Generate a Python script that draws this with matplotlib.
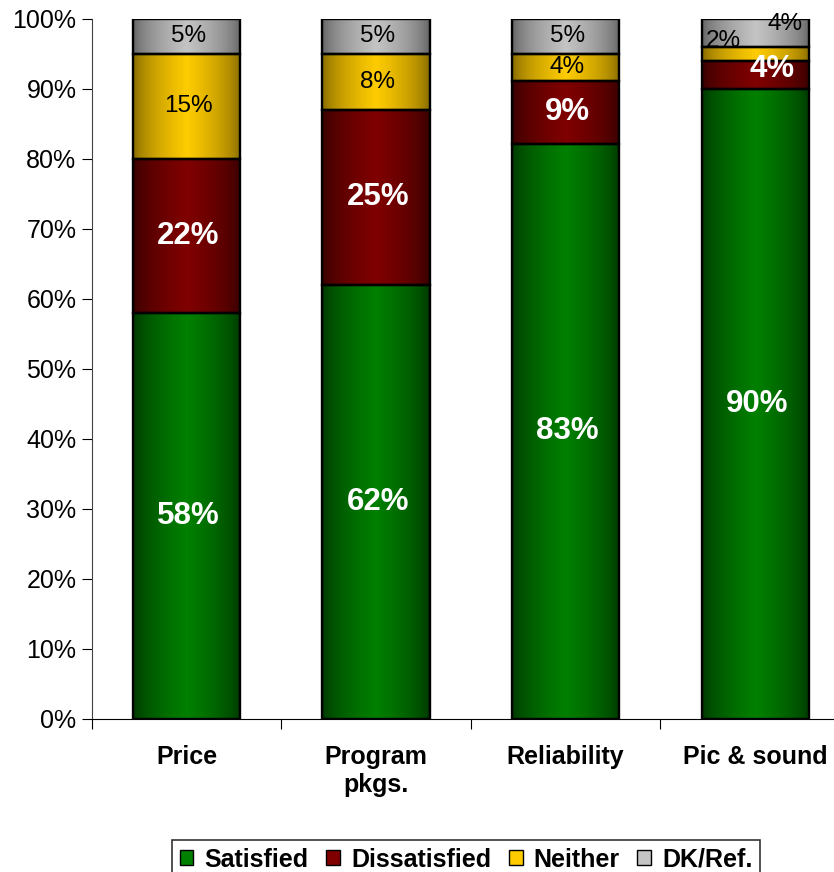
import numpy as np
import matplotlib.pyplot as plt
from matplotlib.colors import to_rgb
from matplotlib.patches import Patch

plt.rcParams["font.family"] = ["Liberation Sans", "DejaVu Sans"]

categories = ["Price", "Program\npkgs.", "Reliability", "Pic & sound"]
series = ["Satisfied", "Dissatisfied", "Neither", "DK/Ref."]
satisfied = [58, 62, 83, 90]
dissatisfied = [22, 25, 9, 4]
neither = [15, 8, 4, 2]
dk_ref = [5, 5, 5, 4]

# edge (dark) and centre (bright) colour of each series
dark_cols = ["#003000", "#300000", "#7a6000", "#5a5a5a"]
light_cols = ["#008000", "#800000", "#ffcc00", "#c4c4c4"]
label_cols = ["white", "white", "black", "black"]
label_bold = [True, True, False, False]


def gradient_img(dark, light, n=200):
    t = np.linspace(0, 1, n)
    mix = (1 - np.abs(2 * t - 1)) ** 0.55
    d = np.array(to_rgb(dark))
    l = np.array(to_rgb(light))
    row = d[None, :] + (l - d)[None, :] * mix[:, None]
    return row[None, :, :]


def main():
    values = np.array([satisfied, dissatisfied, neither, dk_ref], dtype=float)
    totals = values.sum(axis=0)
    shares = values / totals * 100

    fig = plt.figure(figsize=(8.34, 8.72), dpi=100)
    ax = fig.add_axes([0.110, 0.1755, 0.909, 0.8028])
    x = np.arange(len(categories))
    width = 0.565

    bottom = np.zeros(len(categories))
    for i, name in enumerate(series):
        bars = ax.bar(x, shares[i], width, bottom=bottom, facecolor="none",
                      edgecolor="black", linewidth=1.7, label=name, zorder=3)
        img = gradient_img(dark_cols[i], light_cols[i])
        for p in bars.patches:
            ax.imshow(img, extent=[p.get_x(), p.get_x() + p.get_width(),
                                   p.get_y(), p.get_y() + p.get_height()],
                      aspect="auto", zorder=2, interpolation="bilinear")
        for j, p in enumerate(bars.patches):
            cx = p.get_x() + p.get_width() / 2 + 0.01
            cy = p.get_y() + p.get_height() / 2
            dx, dy = 0, 0
            # the last column's small labels were dragged aside in the original
            if j == 3 and i == 1:
                dx, dy = 0.08, 0.9
            elif j == 3 and i == 2:
                dx, dy = -0.18, 1.8
            elif j == 3 and i == 3:
                dx, dy = 0.15, 1.3
            ax.text(cx + dx, cy + dy, f"{int(values[i, j])}%", ha="center", va="center",
                    color=label_cols[i], fontsize=22.5 if label_bold[i] else 17.5,
                    fontweight="bold" if label_bold[i] else "normal", zorder=5)
        bottom += shares[i]

    ax.set_xlim(-0.5, 3.5)
    ax.set_ylim(0, 100)
    ax.set_yticks(np.arange(0, 101, 10))
    ax.set_yticklabels([f"{v}%" for v in range(0, 101, 10)], fontsize=18)
    ax.set_xticks(np.arange(-0.5, 4, 1))
    ax.set_xticklabels([])
    ax.set_xticks(x, minor=True)
    ax.set_xticklabels(categories, minor=True, fontsize=18, fontweight="bold")
    ax.tick_params(axis="x", which="minor", length=0, pad=19)
    ax.tick_params(axis="x", which="major", length=7, direction="out")
    ax.tick_params(axis="y", length=7, direction="out", pad=4)
    for s in ["top", "right"]:
        ax.spines[s].set_visible(False)
    ax.spines["left"].set_color("#404040")

    handles = [Patch(facecolor=light_cols[i], edgecolor="black", linewidth=1.0)
               for i in range(len(series))]
    leg = fig.legend(handles, series, loc="upper left",
                     bbox_to_anchor=(172 / 834, 1 - 840 / 872),
                     ncol=4, frameon=True, fancybox=False,
                     prop={"weight": "bold", "size": 18}, handlelength=0.55,
                     handleheight=0.55, handletextpad=0.45, columnspacing=0.7,
                     borderpad=0.3, borderaxespad=0)
    leg.get_frame().set_edgecolor("black")
    leg.get_frame().set_linewidth(1.2)

    plt.savefig("out.png", dpi=100)
    plt.close()


if __name__ == "__main__":
    main()
